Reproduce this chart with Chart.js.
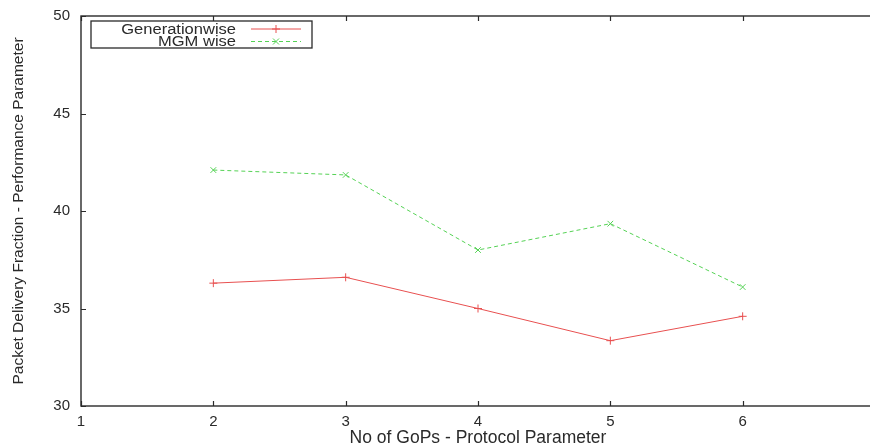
<!DOCTYPE html>
<html>
<head>
<meta charset="utf-8">
<script src="https://cdn.jsdelivr.net/npm/chart.js@4.4.0/dist/chart.umd.min.js"></script>
<style>
html, body { margin: 0; padding: 0; background: #fff; overflow: hidden; }
#wrap { width: 880px; height: 445px; }
</style>
</head>
<body>
<div id="wrap"><canvas id="pdf"></canvas></div>
<script>
// Packet delivery fraction vs number of GoPs
const gopCounts = [2, 3, 4, 5, 6];
const generationwise = [36.3, 36.6, 35.0, 33.35, 34.6];
const mgmWise = [42.1, 41.85, 38.0, 39.35, 36.1];
const seriesNames = ['Generationwise', 'MGM wise'];
const xRange = [1, 7];
const yRange = [30, 50];

const FONT = '"Liberation Sans", Arial, Helvetica, sans-serif';
const INK = '#2a2a2a';
const RED = 'rgb(232, 80, 80)';
const GREEN = 'rgb(85, 210, 85)';

function toPoints(ys) {
    return gopCounts.map((x, i) => ({ x, y: ys[i] }));
}

// gnuplot style box: border round the plot area, ticks pointing inward on all four sides
const frameTicks = {
    id: 'frameTicks',
    afterDatasetsDraw(chart) {
        const { ctx, chartArea: a, scales } = chart;
        const len = 5;
        ctx.save();
        ctx.strokeStyle = INK;
        ctx.lineWidth = 1.4;
        ctx.strokeRect(a.left, a.top, a.right - a.left, a.bottom - a.top);
        ctx.lineWidth = 1.2;
        ctx.beginPath();
        for (const t of scales.x.ticks) {
            const px = Math.round(scales.x.getPixelForValue(t.value)) + 0.5;
            ctx.moveTo(px, a.bottom); ctx.lineTo(px, a.bottom - len);
            ctx.moveTo(px, a.top); ctx.lineTo(px, a.top + len);
        }
        for (const t of scales.y.ticks) {
            const py = Math.round(scales.y.getPixelForValue(t.value)) + 0.5;
            ctx.moveTo(a.left, py); ctx.lineTo(a.left + len, py);
            ctx.moveTo(a.right, py); ctx.lineTo(a.right - len, py);
        }
        ctx.stroke();
        ctx.restore();
    }
};

function drawMarker(ctx, style, x, y, r) {
    ctx.beginPath();
    if (style === 'cross') {
        ctx.moveTo(x - r, y); ctx.lineTo(x + r, y);
        ctx.moveTo(x, y - r); ctx.lineTo(x, y + r);
    } else {
        const d = r * 0.75;
        ctx.moveTo(x - d, y - d); ctx.lineTo(x + d, y + d);
        ctx.moveTo(x - d, y + d); ctx.lineTo(x + d, y - d);
    }
    ctx.stroke();
}

// key box in the top-left corner, text right aligned with the line sample after it
const keyBox = {
    id: 'keyBox',
    afterDraw(chart) {
        const { ctx, chartArea: a } = chart;
        const bx = a.left + 10, by = a.top + 5, bw = 221, bh = 27;
        ctx.save();
        ctx.fillStyle = '#fff';
        ctx.fillRect(bx, by, bw, bh);
        ctx.strokeStyle = INK;
        ctx.lineWidth = 1.3;
        ctx.strokeRect(bx, by, bw, bh);
        chart.data.datasets.forEach((ds, i) => {
            const ry = by + 8 + i * 12.5;
            // labels are set a little wide, like the rest of the lettering
            ctx.save();
            ctx.translate(bx + 145, ry + 1);
            ctx.scale(1.18, 1);
            ctx.font = '14px ' + FONT;
            ctx.textAlign = 'right';
            ctx.textBaseline = 'middle';
            ctx.fillStyle = INK;
            ctx.fillText(ds.label, 0, 0);
            ctx.restore();
            ctx.strokeStyle = ds.borderColor;
            ctx.lineWidth = 1;
            ctx.setLineDash(ds.borderDash || []);
            ctx.beginPath();
            ctx.moveTo(bx + 160, ry); ctx.lineTo(bx + 210, ry);
            ctx.stroke();
            ctx.setLineDash([]);
            drawMarker(ctx, ds.pointStyle, bx + 185, ry, 4);
        });
        ctx.restore();
    }
};

new Chart(document.getElementById('pdf'), {
    type: 'line',
    data: {
        datasets: [
            {
                label: seriesNames[0],
                data: toPoints(generationwise),
                borderColor: RED,
                borderWidth: 1,
                pointStyle: 'cross',
                pointRadius: 4,
                pointBorderColor: RED,
                pointBorderWidth: 1,
                tension: 0
            },
            {
                label: seriesNames[1],
                data: toPoints(mgmWise),
                borderColor: GREEN,
                borderWidth: 1,
                borderDash: [4, 3],
                pointStyle: 'crossRot',
                pointRadius: 4,
                pointBorderColor: GREEN,
                pointBorderWidth: 1,
                tension: 0
            }
        ]
    },
    options: {
        responsive: true,
        maintainAspectRatio: false,
        animation: false,
        layout: { padding: { top: 16, right: 5, left: 0, bottom: 0 } },
        plugins: { legend: { display: false }, tooltip: { enabled: false } },
        scales: {
            x: {
                type: 'linear',
                min: xRange[0],
                max: xRange[1],
                grid: { display: false, drawTicks: false },
                border: { display: false },
                ticks: { stepSize: 1, padding: 8, color: INK, font: { family: FONT, size: 15, lineHeight: 1 } },
                title: { display: true, text: 'No of GoPs - Protocol Parameter', color: INK, padding: { top: 0, bottom: -2 }, font: { family: FONT, size: 17.5, lineHeight: 1 } },
                afterFit(scale) {
                    scale.height = 39;
                    scale.paddingLeft = 0;
                    scale.paddingRight = 0;
                }
            },
            y: {
                min: yRange[0],
                max: yRange[1],
                grid: { display: false, drawTicks: false },
                border: { display: false },
                ticks: { stepSize: 5, padding: 11, color: INK, font: { family: FONT, size: 15, lineHeight: 1 } },
                title: { display: true, text: 'Packet Delivery Fraction - Performance Parameter', color: INK, padding: { top: 11, bottom: 0 }, font: { family: FONT, size: 15.5, lineHeight: 1 } },
                afterFit(scale) {
                    scale.width = 81;
                    scale.paddingTop = 0;
                    scale.paddingBottom = 0;
                }
            }
        }
    },
    plugins: [frameTicks, keyBox]
});
</script>
</body>
</html>
